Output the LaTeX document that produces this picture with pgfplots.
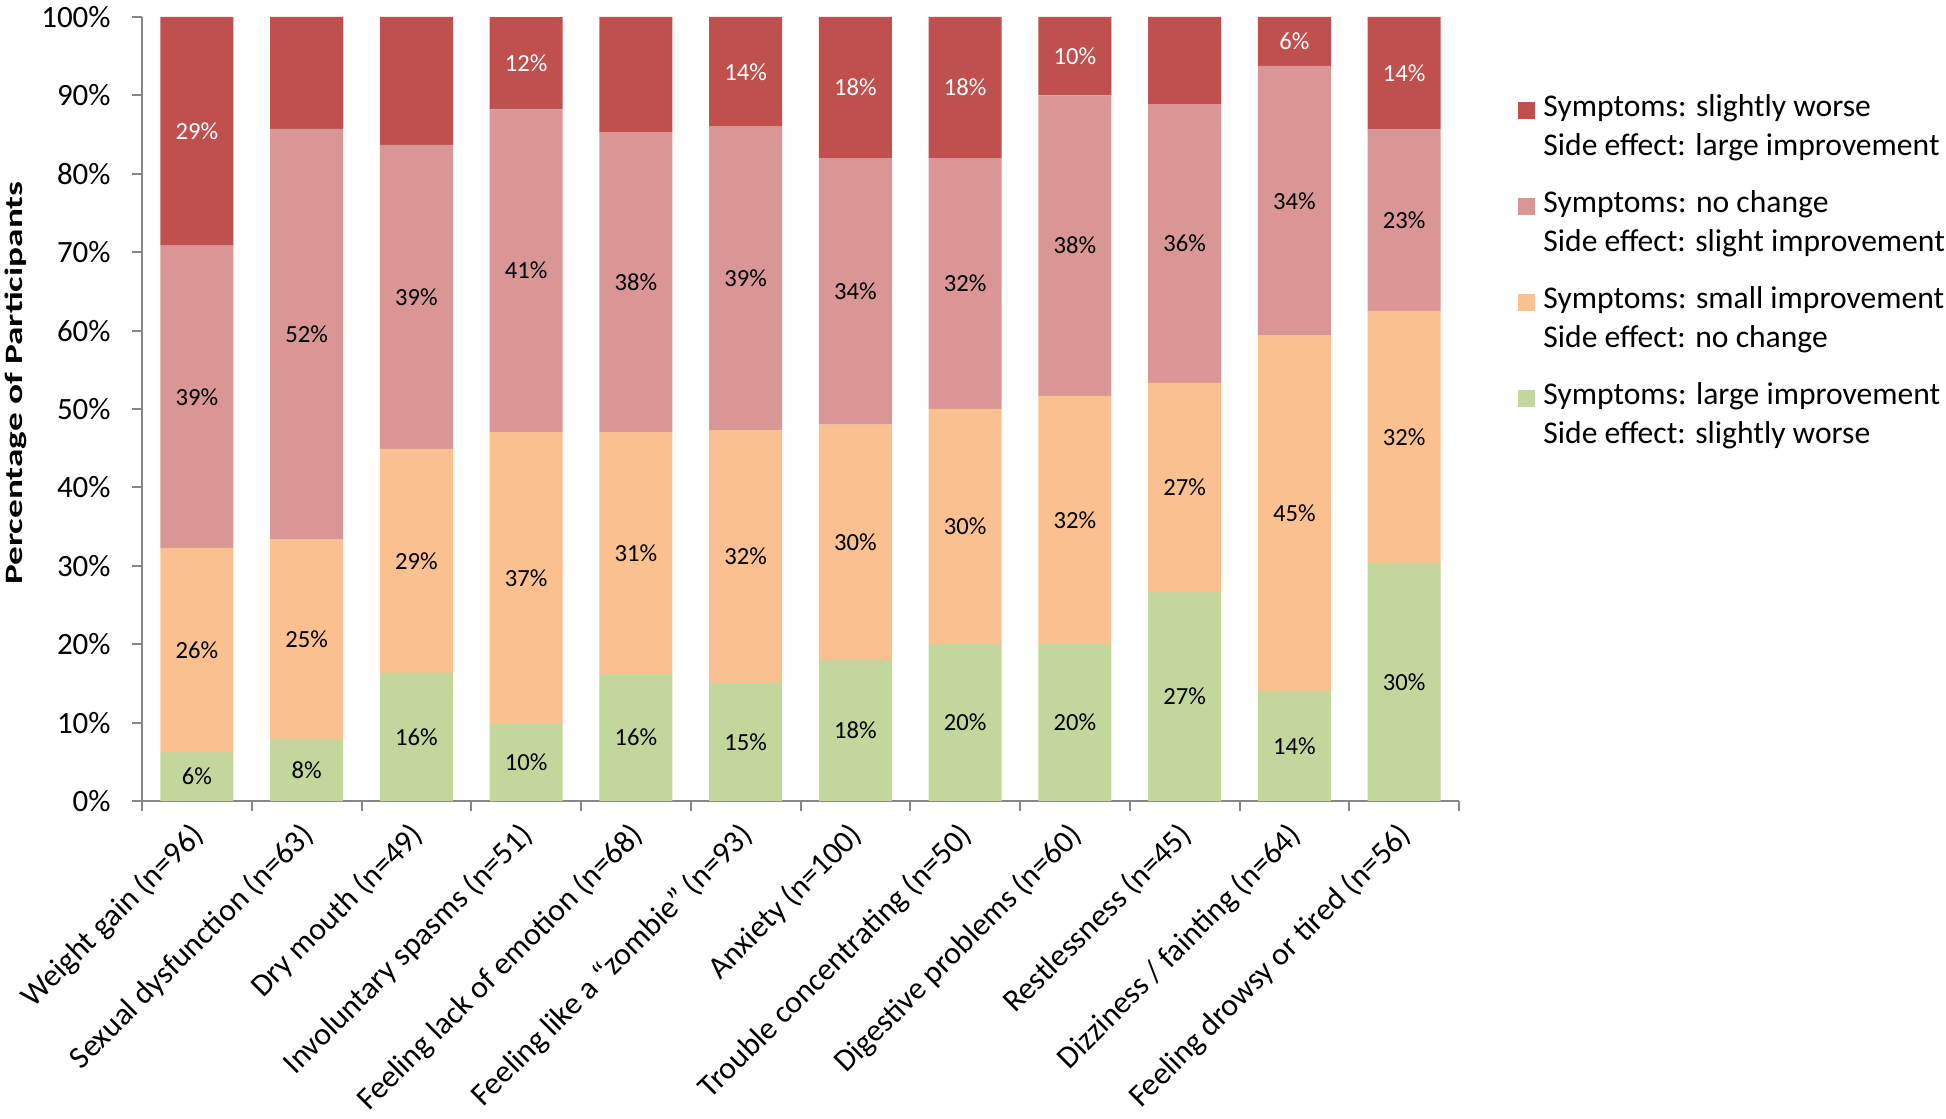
\documentclass[border=0pt]{standalone}
\usepackage{fontspec}
\setmainfont{Carlito}
\usepackage{graphicx}
\usepackage{pgfplots}
\usepackage{pgfplotstable}
\pgfplotsset{compat=1.18}
\definecolor{cred}{HTML}{C0504D}
\definecolor{cpink}{HTML}{D99694}
\definecolor{corange}{HTML}{FAC090}
\definecolor{cgreen}{HTML}{C3D69B}
\definecolor{axisgray}{HTML}{868686}
\pgfplotstableread{
x g o p r
0 6.25 26.04 38.54 29.17
1 7.94 25.40 52.38 14.29
2 16.33 28.57 38.78 16.33
3 9.80 37.25 41.18 11.76
4 16.18 30.88 38.24 14.71
5 15.05 32.26 38.71 13.98
6 18 30 34 18
7 20 30 32 18
8 20 31.67 38.33 10
9 26.67 26.67 35.56 11.11
10 14.06 45.31 34.38 6.25
11 30.36 32.14 23.21 14.29
}\datatable
\begin{document}
\begin{tikzpicture}
\begin{axis}[
  at={(0,0)}, anchor=south west,
  scale only axis, width=658.5pt, height=392pt,
  ybar stacked, bar width=0.665,
  xmin=-0.5, xmax=11.5, ymin=0, ymax=100,
  axis x line*=bottom, axis y line*=left,
  axis line style={draw=axisgray, line width=1pt, -},
  /pgf/number format/assume math mode=true,
  xtick={0,...,11},
  xticklabels={Weight gain (n=96),Sexual dysfunction (n=63),Dry mouth (n=49),Involuntary spasms (n=51),Feeling lack of emotion (n=68),Feeling like a “zombie” (n=93),Anxiety (n=100),Trouble concentrating (n=50),Digestive problems (n=60),Restlessness (n=45),Dizziness / fainting (n=64),Feeling drowsy or tired (n=56)},
  minor xtick={-0.5,0.5,1.5,2.5,3.5,4.5,5.5,6.5,7.5,8.5,9.5,10.5,11.5},
  major x tick style={draw=none},
  minor x tick style={draw=axisgray, line width=1pt},
  ytick={0,10,...,100},
  yticklabels={0\%,10\%,20\%,30\%,40\%,50\%,60\%,70\%,80\%,90\%,100\%},
  y tick style={draw=axisgray, line width=1pt},
  tick align=outside, major tick length=5pt, minor tick length=5pt,
  yticklabel style={font=\fontsize{15.5}{18}\selectfont, inner sep=0pt, xshift=-10.5pt},
  xticklabel style={font=\fontsize{15.8}{19}\selectfont, inner sep=0pt, xshift=-4pt, yshift=-4.5pt, rotate=45, anchor=north east},
  ylabel={\scalebox{1.49}[1]{Percentage of Participants}},
  every axis y label/.style={at={(axis description cs:-0.0955,0.533)}, rotate=90, anchor=center, font=\bfseries\fontsize{12.5}{14}\selectfont},
  point meta=explicit,
  nodes near coords={\pgfmathprintnumber[fixed,precision=0]{\pgfplotspointmeta}\%},
  every node near coord/.append style={font=\fontsize{12.3}{15}\selectfont, text=black, anchor=center},
  legend image code/.code={\fill[#1] (0pt,3.7pt) rectangle (8.5pt,12.2pt);},
  reverse legend,
  legend style={at={(1,1)}, anchor=north west, xshift=26.5pt, yshift=-36.5pt, draw=none, fill=none, font=\fontsize{15.8}{19.8}\selectfont, row sep=15.7pt, column sep=4pt, nodes={inner sep=0pt}, cells={align=left}},
  legend cell align=left,
]
\addplot[fill=cgreen, draw=none] table[x=x, y=g, meta=g]{\datatable};
\addlegendentry{Symptoms: large improvement\\Side effect: slightly worse}
\addplot[fill=corange, draw=none] table[x=x, y=o, meta=o]{\datatable};
\addlegendentry{Symptoms: small improvement\\Side effect: no change}
\addplot[fill=cpink, draw=none] table[x=x, y=p, meta=p]{\datatable};
\addlegendentry{Symptoms: no change\\Side effect: slight improvement}
\addplot[fill=cred, draw=none, every node near coord/.append style={text=white}] table[x=x, y=r, meta=r]{\datatable};
\addlegendentry{Symptoms: slightly worse\\Side effect: large improvement}
\end{axis}
\pgfresetboundingbox
\useasboundingbox (-71pt,-158.5pt) rectangle (902pt,400.5pt);
\end{tikzpicture}
\end{document}
